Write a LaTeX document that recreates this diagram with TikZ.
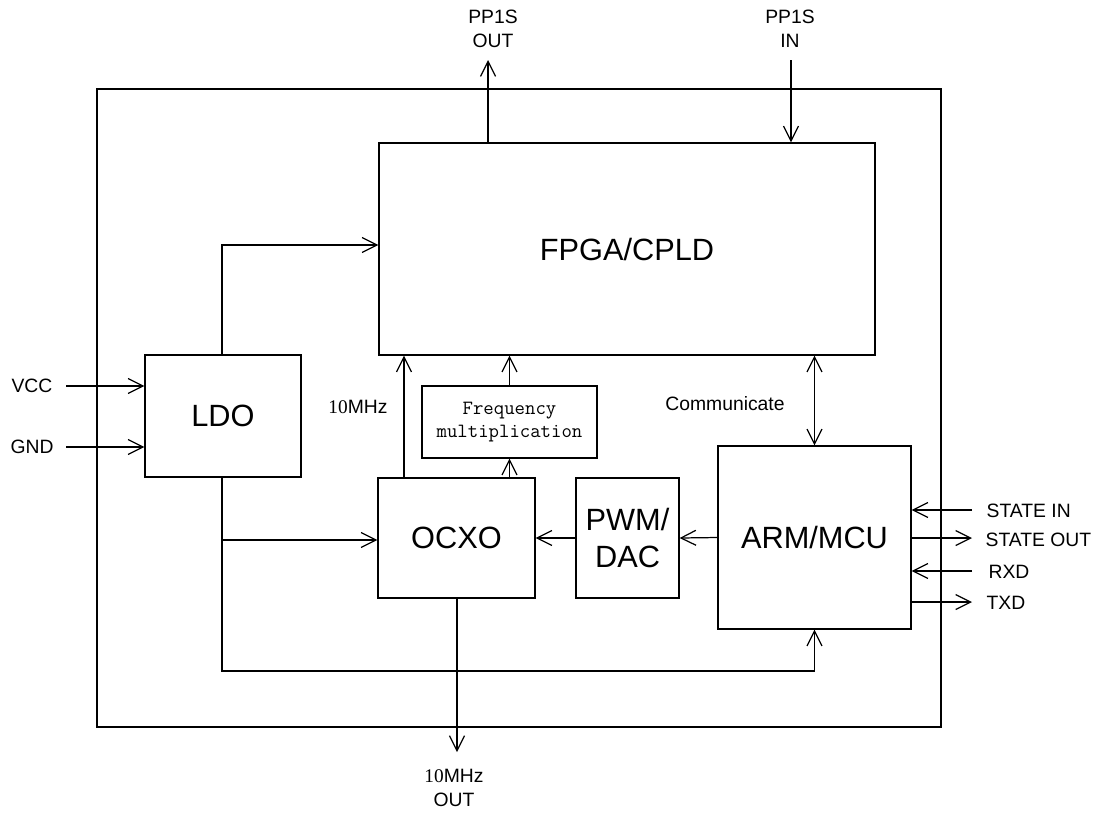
\documentclass[tikz,border=0pt]{standalone}
\usepackage{fontspec}
\setmainfont{Liberation Sans}
\newfontfamily\serifnum{Liberation Serif}
\usetikzlibrary{arrows.meta}
\begin{document}
\begin{tikzpicture}[x=0.02cm,y=-0.02cm,
  line width=0.7pt,
  blk/.style={draw, line width=0.7pt, inner sep=0pt, font=\fontsize{17.5}{21}\selectfont, align=center},
  lbl/.style={font=\fontsize{11}{13.5}\selectfont, align=center, inner sep=0pt},
  arr/.style={-{Straight Barb[length=3mm,width=3mm,line width=0.7pt]}},
  darr/.style={{Straight Barb[length=3mm,width=3mm,line width=0.7pt]}-{Straight Barb[length=3mm,width=3mm,line width=0.7pt]}}]
\useasboundingbox (0,0) rectangle (1098,816);
\fill[white] (0,0) rectangle (1098,816);
% outer frame
\draw (97,89) rectangle (941,727);
% blocks
\node[blk, minimum width=9.92cm, minimum height=4.24cm] (fpga) at (627,249) {FPGA/CPLD};
\node[blk, minimum width=3.12cm, minimum height=2.44cm] (ldo) at (223,416) {LDO};
\node[blk, minimum width=3.5cm, minimum height=1.44cm, font=\ttfamily\fontsize{11.5}{14}\selectfont] (fm) at (509.5,422) {Frequency\\[-1pt]multiplication};
\node[blk, minimum width=3.14cm, minimum height=2.4cm] (ocxo) at (456.5,538) {OCXO};
\node[blk, minimum width=2.06cm, minimum height=2.4cm] (pwm) at (627.5,538) {PWM/\\DAC};
\node[blk, minimum width=3.86cm, minimum height=3.66cm] (arm) at (814.5,537.5) {ARM/MCU};
% coordinates
\coordinate (ppo) at (488,60);
\coordinate (ppi) at (791,60);
\coordinate (vcc) at (66,386);
\coordinate (gnd) at (66,447);
\coordinate (ldotop) at (222,245);
\coordinate (ldobot) at (222,671);
\coordinate (br) at (222,540);
\coordinate (mhzout) at (457,752);
\coordinate (sin) at (972,510);
\coordinate (sout) at (972,538);
\coordinate (rxd) at (972,571);
\coordinate (txd) at (972,602);
% labels
\node[lbl] (lppo) at (493,29) {PP1S\\OUT};
\node[lbl] (lppi) at (790,29) {PP1S\\IN};
\node[lbl] (lvcc) at (32,386) {VCC};
\node[lbl] (lgnd) at (32,447) {GND};
\node[lbl] (lmhz) at (358,407) {{\serifnum 10}MHz};
\node[lbl] (lcom) at (725,404) {Communicate};
\node[lbl] (lout) at (454,788) {{\serifnum 10}MHz\\OUT};
\node[lbl, anchor=west] (lsin) at (986,511) {STATE IN};
\node[lbl, anchor=west] (lsout) at (985,540) {STATE OUT};
\node[lbl, anchor=west] (lrxd) at (988,572) {RXD};
\node[lbl, anchor=west] (ltxd) at (986,603) {TXD};
% connectors
\draw[arr] (fpga.north -| ppo) -- (ppo);
\draw[arr] (ppi) -- (fpga.north -| ppi);
\draw[arr] (vcc) -- (ldo.west |- vcc);
\draw[arr] (gnd) -- (ldo.west |- gnd);
\draw[arr] (ldo.north -| ldotop) -- (ldotop) -- (fpga.west |- ldotop);
\draw[arr] (ldo.south -| ldobot) -- (ldobot) -| (arm.south);
\draw[arr] (br) -- (ocxo.west |- br);
\draw[arr] (ocxo.north -| 404,0) -- (fpga.south -| 404,0);
\draw[arr] (ocxo.north -| fm.south) -- (fm.south);
\draw[arr] (fm.north) -- (fpga.south -| fm.north);
\draw[arr] (pwm.west) -- (ocxo.east);
\draw[arr] (arm.west) -- (pwm.east);
\draw[darr] (fpga.south -| arm.north) -- (arm.north);
\draw[arr] (sin) -- (arm.east |- sin);
\draw[arr] (arm.east |- sout) -- (sout);
\draw[arr] (rxd) -- (arm.east |- rxd);
\draw[arr] (arm.east |- txd) -- (txd);
\draw[arr] (ocxo.south -| mhzout) -- (mhzout);
\end{tikzpicture}
\end{document}
